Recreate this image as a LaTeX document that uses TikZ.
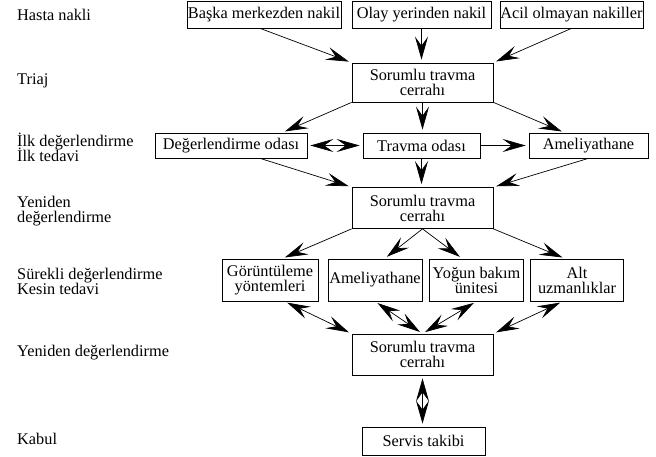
\documentclass[tikz,border=0pt]{standalone}
\usepackage{fontspec}
\setmainfont{Liberation Serif}
\usetikzlibrary{arrows.meta,calc}
\setlength{\lineskiplimit}{-20pt}
\begin{document}
\begin{tikzpicture}[x=1pt, y=-1pt, font=\fontsize{16.3}{15}\selectfont,
	    box/.style={draw, line width=0.7pt, inner sep=0pt, align=center},
	    lab/.style={anchor=west, align=left, inner sep=0pt},
	    arr/.style={line width=0.7pt, -{Stealth[length=23pt, width=13pt, inset=9pt]}, shorten >=3pt},
	    darr/.style={line width=0.7pt, {Stealth[length=23pt, width=13pt, inset=9pt]}-{Stealth[length=23pt, width=13pt, inset=9pt]}, shorten >=3pt, shorten <=3pt}]
	    \useasboundingbox (0,0) rectangle (656,457);
	    % stages
	    \node[lab] (l1) at (17,15) {Hasta nakli};
	    \node[lab] (l2) at (17,81) {Triaj};
	    \node[lab] (l3) at (17,147) {İlk değerlendirme\\İlk tedavi};
	    \node[lab] (l4) at (17,211) {Yeniden\\değerlendirme};
	    \node[lab] (l5) at (17,281) {Sürekli değerlendirme\\Kesin tedavi};
	    \node[lab] (l6) at (17,353) {Yeniden değerlendirme};
	    \node[lab] (l7) at (17,439) {Kabul};
	    % boxes
	    \node[box, minimum width=154pt, minimum height=27pt] (basa) at (264,14.5) {Başka merkezden nakil};
	    \node[box, minimum width=139pt, minimum height=27pt] (olay) at (421.5,14.5) {Olay yerinden nakil};
	    \node[box, minimum width=143pt, minimum height=27pt] (acil) at (571.5,14.5) {Acil olmayan nakiller};
	    \node[box, minimum width=141pt, minimum height=39pt] (cerr1) at (422.5,82.5) {Sorumlu travma\\cerrahı};
	    \node[box, minimum width=152pt, minimum height=25pt] (degr) at (231,145.5) {Değerlendirme odası};
	    \node[box, minimum width=117pt, minimum height=25pt] (travma) at (421.5,145.5) {Travma odası};
	    \node[box, minimum width=119pt, minimum height=25pt] (amel1) at (588.5,145.5) {Ameliyathane};
	    \node[box, minimum width=141pt, minimum height=41pt] (cerr2) at (422.5,208) {Sorumlu travma\\cerrahı};
	    \node[box, minimum width=96pt, minimum height=42pt] (gor) at (270,280) {Görüntüleme\\yöntemleri};
	    \node[box, minimum width=94pt, minimum height=42pt] (amel2) at (375,280) {Ameliyathane};
	    \node[box, minimum width=94pt, minimum height=42pt] (yogun) at (476.5,280) {Yoğun bakım\\ünitesi};
	    \node[box, minimum width=93pt, minimum height=42pt] (alt) at (577,280) {Alt\\uzmanlıklar};
	    \node[box, minimum width=141pt, minimum height=41pt] (cerr3) at (422.5,354.5) {Sorumlu travma\\cerrahı};
	    \node[box, minimum width=123pt, minimum height=28pt] (servis) at (423.5,441) {Servis takibi};
	    % connectors
	    \draw[arr] ($(basa.south)+(-4,0)$) -- (cerr1.north west);
	    \draw[arr] (olay.south) -- (olay.south |- cerr1.north);
	    \draw[arr] (acil.south) -- (cerr1.north east);
	    \draw[arr] (cerr1.south west) -- ($(degr.north)!.67!(degr.north east)$);
	    \draw[arr] (cerr1.south) -- (cerr1.south |- travma.north);
	    \draw[arr] (cerr1.south east) -- ($(amel1.north)!.4!(amel1.north west)$);
	    \draw[darr] (degr.east) -- (travma.west);
	    \draw[arr] (travma.east) -- (amel1.west);
	    \draw[arr] ($(degr.south)!.38!(degr.south east)$) -- (cerr2.north west);
	    \draw[arr] (travma.south) -- (travma.south |- cerr2.north);
	    \draw[arr] (amel1.south) -- (cerr2.north east);
	    \draw[arr] (cerr2.south west) -- ($(gor.north)!.25!(gor.north east)$);
	    \draw[arr] (cerr2.south) -- ($(amel2.north)!.2!(amel2.north east)$);
	    \draw[arr] (cerr2.south) -- ($(yogun.north)!.3!(yogun.north west)$);
	    \draw[arr] (cerr2.south east) -- ($(alt.north)!.25!(alt.north west)$);
	    \draw[darr] ($(gor.south)!.3!(gor.south east)$) -- (cerr3.north west);
	    \draw[darr] (amel2.south) -- (cerr3.north);
	    \draw[darr] (yogun.south) -- (cerr3.north);
	    \draw[darr] ($(alt.south)!.3!(alt.south west)$) -- (cerr3.north east);
	    \draw[darr] (cerr3.south) -- (cerr3.south |- servis.north);
\end{tikzpicture}
\end{document}
